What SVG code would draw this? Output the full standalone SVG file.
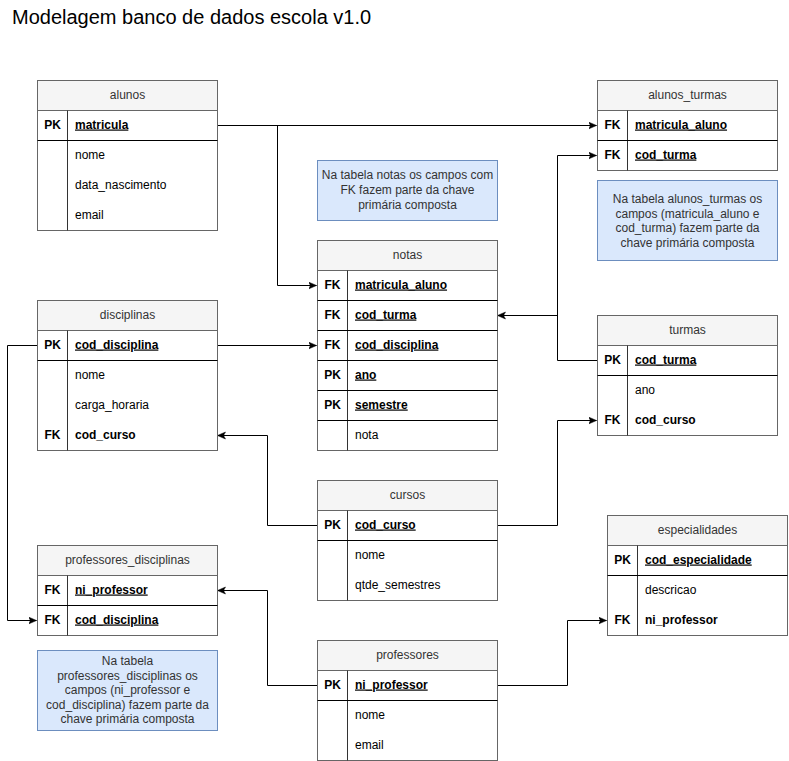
<svg xmlns="http://www.w3.org/2000/svg" width="789" height="761" viewBox="0 0 789 761">
<style>
text{font-family:"Liberation Sans",Arial,Helvetica,sans-serif;font-size:12px;fill:#000}
.title{font-size:20px;fill:#000}
.tb{fill:#fff;stroke:#666;stroke-width:1}
.hd{fill:#f5f5f5;stroke:#666;stroke-width:1}
.sep{stroke:#000;stroke-width:1}
.div{stroke:#333;stroke-width:1}
.h{text-anchor:middle;fill:#333}
.k{text-anchor:middle;font-weight:bold}
.u{font-weight:bold;text-decoration:underline}
.b{font-weight:bold}
.note{fill:#dae8fc;stroke:#6c8ebf;stroke-width:1}
.nt{text-anchor:middle;fill:#333}
.c{fill:none;stroke:#000;stroke-width:1}
</style>
<defs>
<marker id="arr" markerUnits="userSpaceOnUse" markerWidth="10" markerHeight="10" refX="8" refY="4" orient="auto">
<path d="M0,0.5 L8,4 L0,7.5 L2,4 z" fill="#000" stroke="#000" stroke-width="0.5"/>
</marker>
</defs>
<rect width="789" height="761" fill="#fff"/>
<text class="title" x="12" y="24">Modelagem banco de dados escola v1.0</text>

<g id="connectors">
<path class="c" d="M217.5,125.5 H596.5" marker-end="url(#arr)"/>
<path class="c" d="M277.5,125.5 V285.5 H316.5" marker-end="url(#arr)"/>
<path class="c" d="M597,360.5 H557.5 V155.5 H596.5" marker-end="url(#arr)"/>
<path class="c" d="M557.5,315.5 H497.5" marker-end="url(#arr)"/>
<path class="c" d="M217.5,345.5 H316.5" marker-end="url(#arr)"/>
<path class="c" d="M37,345.5 H7.5 V620.5 H36.5" marker-end="url(#arr)"/>
<path class="c" d="M317,525.5 H267.5 V435.5 H217.5" marker-end="url(#arr)"/>
<path class="c" d="M497,525.5 H557.5 V420.5 H596.5" marker-end="url(#arr)"/>
<path class="c" d="M317,685.5 H267.5 V590.5 H217.5" marker-end="url(#arr)"/>
<path class="c" d="M497,685.5 H567.5 V620.5 H606.5" marker-end="url(#arr)"/>
</g>

<g id="alunos">
<rect class="tb" x="37.5" y="80.5" width="180" height="150"/>
<rect class="hd" x="37.5" y="80.5" width="180" height="30"/>
<text class="h" x="127.5" y="99">alunos</text>
<line class="div" x1="67.5" y1="110.5" x2="67.5" y2="230.5"/>
<line class="sep" x1="37.5" y1="140.5" x2="217.5" y2="140.5"/>
<text class="k" x="52.5" y="128.5">PK</text>
<text class="u" x="75" y="128.5">matricula</text>
<text x="75" y="158.5">nome</text>
<text x="75" y="188.5">data_nascimento</text>
<text x="75" y="218.5">email</text>
</g>

<g id="alunos_turmas">
<rect class="tb" x="597.5" y="80.5" width="180" height="90"/>
<rect class="hd" x="597.5" y="80.5" width="180" height="30"/>
<text class="h" x="687.5" y="99">alunos_turmas</text>
<line class="div" x1="627.5" y1="110.5" x2="627.5" y2="170.5"/>
<line class="sep" x1="597.5" y1="140.5" x2="777.5" y2="140.5"/>
<text class="k" x="612.5" y="128.5">FK</text>
<text class="u" x="635" y="128.5">matricula_aluno</text>
<text class="k" x="612.5" y="158.5">FK</text>
<text class="u" x="635" y="158.5">cod_turma</text>
</g>

<g id="note_alunos_turmas">
<rect class="note" x="597.5" y="180.5" width="180" height="80"/>
<text class="nt" x="687.5" y="203">Na tabela alunos_turmas os</text>
<text class="nt" x="687.5" y="217.5">campos (matricula_aluno e</text>
<text class="nt" x="687.5" y="232">cod_turma) fazem parte da</text>
<text class="nt" x="687.5" y="246.5">chave primária composta</text>
</g>

<g id="note_notas">
<rect class="note" x="317.5" y="160.5" width="180" height="60"/>
<text class="nt" x="407.5" y="179">Na tabela notas os campos com</text>
<text class="nt" x="407.5" y="194">FK fazem parte da chave</text>
<text class="nt" x="407.5" y="209">primária composta</text>
</g>

<g id="notas">
<rect class="tb" x="317.5" y="240.5" width="180" height="210"/>
<rect class="hd" x="317.5" y="240.5" width="180" height="30"/>
<text class="h" x="407.5" y="259">notas</text>
<line class="div" x1="347.5" y1="270.5" x2="347.5" y2="450.5"/>
<line class="sep" x1="317.5" y1="300.5" x2="497.5" y2="300.5"/>
<line class="sep" x1="317.5" y1="330.5" x2="497.5" y2="330.5"/>
<line class="sep" x1="317.5" y1="360.5" x2="497.5" y2="360.5"/>
<line class="sep" x1="317.5" y1="390.5" x2="497.5" y2="390.5"/>
<line class="sep" x1="317.5" y1="420.5" x2="497.5" y2="420.5"/>
<text class="k" x="332.5" y="288.5">FK</text>
<text class="u" x="355" y="288.5">matricula_aluno</text>
<text class="k" x="332.5" y="318.5">FK</text>
<text class="u" x="355" y="318.5">cod_turma</text>
<text class="k" x="332.5" y="348.5">FK</text>
<text class="u" x="355" y="348.5">cod_disciplina</text>
<text class="k" x="332.5" y="378.5">PK</text>
<text class="u" x="355" y="378.5">ano</text>
<text class="k" x="332.5" y="408.5">PK</text>
<text class="u" x="355" y="408.5">semestre</text>
<text x="355" y="438.5">nota</text>
</g>

<g id="disciplinas">
<rect class="tb" x="37.5" y="300.5" width="180" height="150"/>
<rect class="hd" x="37.5" y="300.5" width="180" height="30"/>
<text class="h" x="127.5" y="319">disciplinas</text>
<line class="div" x1="67.5" y1="330.5" x2="67.5" y2="450.5"/>
<line class="sep" x1="37.5" y1="360.5" x2="217.5" y2="360.5"/>
<text class="k" x="52.5" y="348.5">PK</text>
<text class="u" x="75" y="348.5">cod_disciplina</text>
<text x="75" y="378.5">nome</text>
<text x="75" y="408.5">carga_horaria</text>
<text class="k" x="52.5" y="438.5">FK</text>
<text class="b" x="75" y="438.5">cod_curso</text>
</g>

<g id="turmas">
<rect class="tb" x="597.5" y="315.5" width="180" height="120"/>
<rect class="hd" x="597.5" y="315.5" width="180" height="30"/>
<text class="h" x="687.5" y="334">turmas</text>
<line class="div" x1="627.5" y1="345.5" x2="627.5" y2="435.5"/>
<line class="sep" x1="597.5" y1="375.5" x2="777.5" y2="375.5"/>
<text class="k" x="612.5" y="363.5">PK</text>
<text class="u" x="635" y="363.5">cod_turma</text>
<text x="635" y="393.5">ano</text>
<text class="k" x="612.5" y="423.5">FK</text>
<text class="b" x="635" y="423.5">cod_curso</text>
</g>

<g id="cursos">
<rect class="tb" x="317.5" y="480.5" width="180" height="120"/>
<rect class="hd" x="317.5" y="480.5" width="180" height="30"/>
<text class="h" x="407.5" y="499">cursos</text>
<line class="div" x1="347.5" y1="510.5" x2="347.5" y2="600.5"/>
<line class="sep" x1="317.5" y1="540.5" x2="497.5" y2="540.5"/>
<text class="k" x="332.5" y="528.5">PK</text>
<text class="u" x="355" y="528.5">cod_curso</text>
<text x="355" y="558.5">nome</text>
<text x="355" y="588.5">qtde_semestres</text>
</g>

<g id="especialidades">
<rect class="tb" x="607.5" y="515.5" width="180" height="120"/>
<rect class="hd" x="607.5" y="515.5" width="180" height="30"/>
<text class="h" x="697.5" y="534">especialidades</text>
<line class="div" x1="637.5" y1="545.5" x2="637.5" y2="635.5"/>
<line class="sep" x1="607.5" y1="575.5" x2="787.5" y2="575.5"/>
<text class="k" x="622.5" y="563.5">PK</text>
<text class="u" x="645" y="563.5">cod_especialidade</text>
<text x="645" y="593.5">descricao</text>
<text class="k" x="622.5" y="623.5">FK</text>
<text class="b" x="645" y="623.5">ni_professor</text>
</g>

<g id="professores_disciplinas">
<rect class="tb" x="37.5" y="545.5" width="180" height="90"/>
<rect class="hd" x="37.5" y="545.5" width="180" height="30"/>
<text class="h" x="127.5" y="564">professores_disciplinas</text>
<line class="div" x1="67.5" y1="575.5" x2="67.5" y2="635.5"/>
<line class="sep" x1="37.5" y1="605.5" x2="217.5" y2="605.5"/>
<text class="k" x="52.5" y="593.5">FK</text>
<text class="u" x="75" y="593.5">ni_professor</text>
<text class="k" x="52.5" y="623.5">FK</text>
<text class="u" x="75" y="623.5">cod_disciplina</text>
</g>

<g id="note_professores_disciplinas">
<rect class="note" x="37.5" y="650.5" width="180" height="80"/>
<text class="nt" x="127.5" y="665">Na tabela</text>
<text class="nt" x="127.5" y="679.5">professores_disciplinas os</text>
<text class="nt" x="127.5" y="694">campos (ni_professor e</text>
<text class="nt" x="127.5" y="708.5">cod_disciplina) fazem parte da</text>
<text class="nt" x="127.5" y="723">chave primária composta</text>
</g>

<g id="professores">
<rect class="tb" x="317.5" y="640.5" width="180" height="120"/>
<rect class="hd" x="317.5" y="640.5" width="180" height="30"/>
<text class="h" x="407.5" y="659">professores</text>
<line class="div" x1="347.5" y1="670.5" x2="347.5" y2="760.5"/>
<line class="sep" x1="317.5" y1="700.5" x2="497.5" y2="700.5"/>
<text class="k" x="332.5" y="688.5">PK</text>
<text class="u" x="355" y="688.5">ni_professor</text>
<text x="355" y="718.5">nome</text>
<text x="355" y="748.5">email</text>
</g>
</svg>
